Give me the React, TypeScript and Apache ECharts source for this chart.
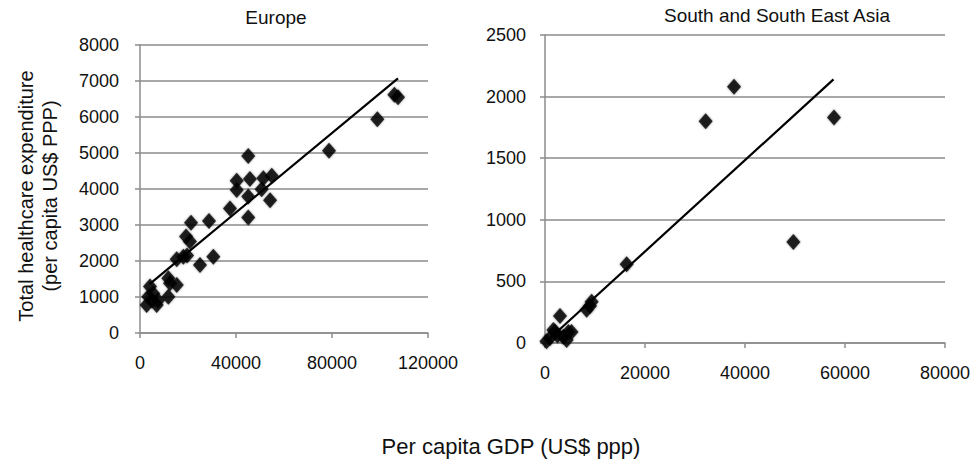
import React, { useEffect, useRef } from "react";
import * as echarts from "echarts";

const europeGdp = [106000, 107500, 98900, 78750, 45100, 40300, 40300, 45800, 51400, 54900, 50700, 45100, 54200, 37500, 45100, 21250, 28750, 19200, 20800, 30550, 25000, 18050, 15300, 19600, 15300, 12500, 11800, 11800, 4170, 3470, 2780, 6950, 5000, 5500, 7500];
const europeHealth = [6620, 6550, 5940, 5065, 4917, 4230, 3970, 4280, 4300, 4370, 3990, 3790, 3690, 3460, 3210, 3065, 3110, 2680, 2540, 2120, 1890, 2120, 2050, 2150, 1330, 1380, 1520, 1010, 1290, 1010, 780, 780, 900, 1100, 900];
const europeTrendGdp = [4000, 107500];
const europeTrendHealth = [1360, 7075];

const asiaGdp = [37800, 32130, 57800, 49670, 16330, 9330, 8330, 9000, 3000, 4670, 1670, 1000, 3670, 5300, 300, 2000, 4330, 2500];
const asiaHealth = [2080, 1800, 1830, 820, 640, 335, 270, 300, 220, 90, 105, 40, 50, 90, 15, 92, 24, 60];
const asiaTrendGdp = [500, 57700];
const asiaTrendHealth = [20, 2140];

const europeXRange = [0, 120000, 40000];
const europeYRange = [0, 8000, 1000];
const asiaXRange = [0, 80000, 20000];
const asiaYRange = [0, 2500, 500];

const titles = ["Europe", "South and South East Asia"];
const xTitle = "Per capita GDP (US$ ppp)";
const yTitle = "Total healthcare expenditure\n(per capita US$ PPP)";

const FONT = "'Liberation Sans', Arial, sans-serif";

function pairs(xs: number[], ys: number[]) {
  return xs.map((x, i) => [x, ys[i]]);
}

export default function App() {
  const ref = useRef<HTMLDivElement>(null);
  useEffect(() => {
    if (!ref.current) return;
    const chart = echarts.init(ref.current, null, { renderer: "svg" });
    const axisCommon = {
      axisLine: { show: true, lineStyle: { color: "#8c8c8c", width: 1.5 } },
      axisTick: { show: true, length: 5, lineStyle: { color: "#8c8c8c", width: 1.5 } },
      axisLabel: { color: "#111", fontSize: 18, fontFamily: FONT, formatter: (v: number) => String(v) },
    };
    const mkX = (r: number[], gi: number) => ({
      type: "value",
      gridIndex: gi,
      min: r[0],
      max: r[1],
      interval: r[2],
      ...axisCommon,
      axisLabel: { ...axisCommon.axisLabel, margin: 21 },
      splitLine: { show: false },
    });
    const mkY = (r: number[], gi: number, margin: number) => ({
      type: "value",
      gridIndex: gi,
      min: r[0],
      max: r[1],
      interval: r[2],
      ...axisCommon,
      axisLabel: { ...axisCommon.axisLabel, margin },
      splitLine: { show: true, lineStyle: { color: "#a8a8a8", width: 2 } },
    });
    const scatterStyle = {
      type: "scatter",
      symbol: "diamond",
      symbolSize: [14, 16],
      itemStyle: { color: "#000", shadowBlur: 2, shadowColor: "rgba(0,0,0,0.6)" },
    };
    const lineStyle = {
      type: "line",
      symbol: "none",
      lineStyle: { color: "#000", width: 2.2 },
    };
    chart.setOption({
      animation: false,
      backgroundColor: "#fff",
      grid: [
        { left: 140, top: 45, width: 288, height: 288 },
        { left: 545, top: 35, width: 400, height: 308 },
      ],
      xAxis: [mkX(europeXRange, 0), mkX(asiaXRange, 1)],
      yAxis: [mkY(europeYRange, 0, 21), mkY(asiaYRange, 1, 19)],
      series: [
        { ...scatterStyle, xAxisIndex: 0, yAxisIndex: 0, data: pairs(europeGdp, europeHealth) },
        { ...lineStyle, xAxisIndex: 0, yAxisIndex: 0, data: pairs(europeTrendGdp, europeTrendHealth) },
        { ...scatterStyle, xAxisIndex: 1, yAxisIndex: 1, data: pairs(asiaGdp, asiaHealth) },
        { ...lineStyle, xAxisIndex: 1, yAxisIndex: 1, data: pairs(asiaTrendGdp, asiaTrendHealth) },
      ],
      graphic: [
        {
          type: "text",
          x: 276,
          y: 17,
          style: { text: titles[0], fontSize: 19, fontFamily: FONT, fill: "#111", textAlign: "center", textVerticalAlign: "middle" },
        },
        {
          type: "text",
          x: 777,
          y: 15,
          style: { text: titles[1], fontSize: 19, fontFamily: FONT, fill: "#111", textAlign: "center", textVerticalAlign: "middle" },
        },
        {
          type: "text",
          x: 511,
          y: 446,
          style: { text: xTitle, fontSize: 22, fontFamily: FONT, fill: "#111", textAlign: "center", textVerticalAlign: "middle" },
        },
        {
          type: "text",
          x: 38,
          y: 196,
          rotation: Math.PI / 2,
          style: { text: yTitle, fontSize: 20, lineHeight: 24, fontFamily: FONT, fill: "#111", textAlign: "center", textVerticalAlign: "middle" },
        },
      ],
    });
    return () => chart.dispose();
  }, []);
  return (
    <div
      ref={ref}
      style={{ position: "absolute", left: 0, top: 0, width: 974, height: 461 }}
    />
  );
}
